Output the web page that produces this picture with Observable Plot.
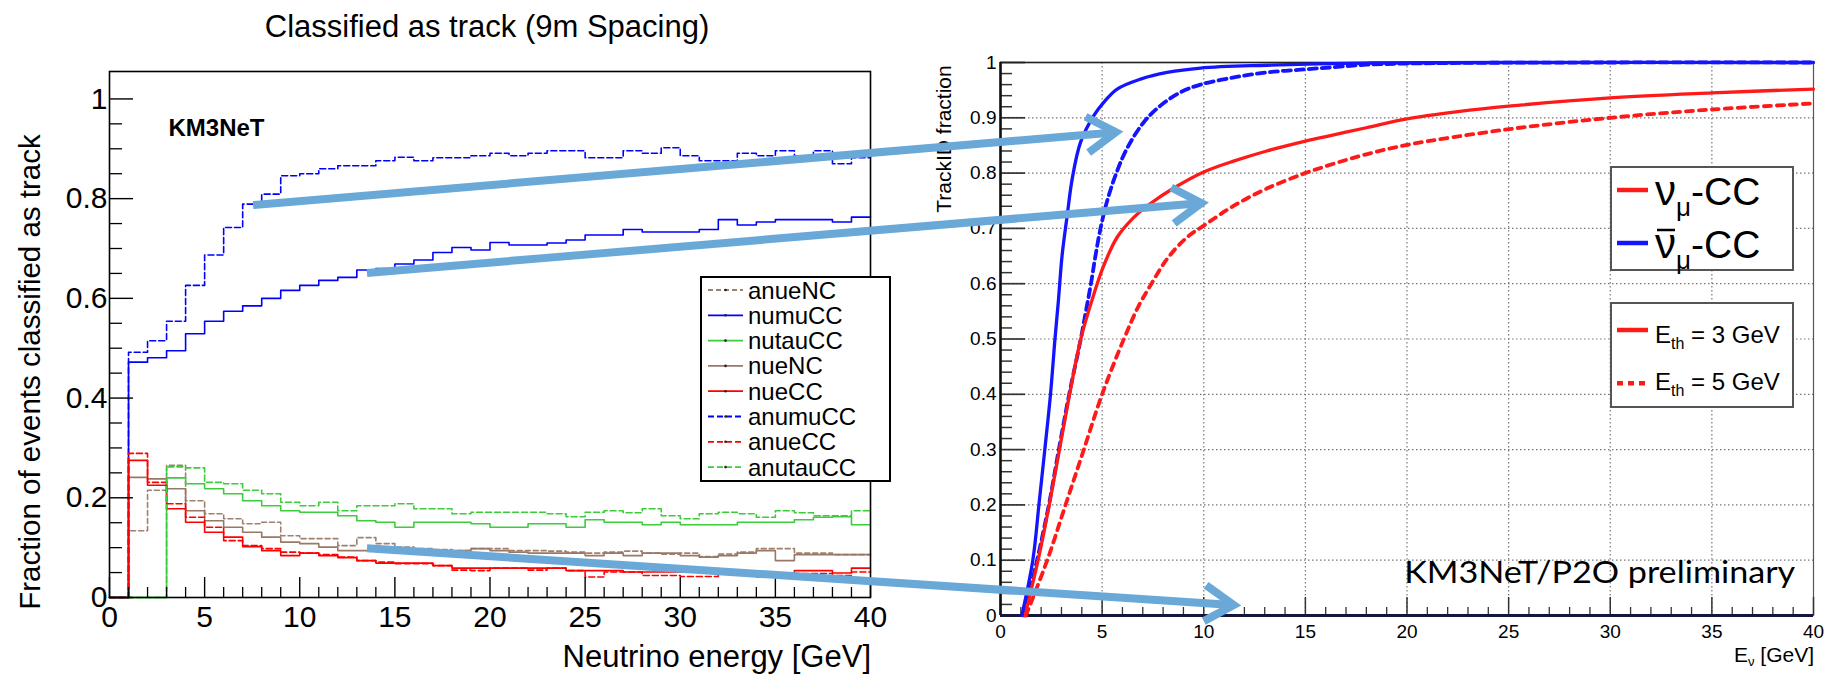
<!DOCTYPE html>
<html><head><meta charset="utf-8">
<script src="https://cdn.jsdelivr.net/npm/d3@7"></script>
<script src="https://cdn.jsdelivr.net/npm/@observablehq/plot@0.6"></script>
<style>
html,body{margin:0;padding:0;background:#fff;}
#root{position:relative;width:1836px;height:677px;overflow:hidden;background:#fff;}
#root svg{position:absolute;top:0;}
</style></head><body><div id="root"></div>
<script>
const FONT = "'Liberation Sans', Arial, Helvetica, sans-serif";

// ---------- LEFT PANEL: fraction classified as track, 1 GeV bins 0..40 ----------
const leftTitle = "Classified as track (9m Spacing)";
const leftYTitle = "Fraction of events classified as track";
const leftXTitle = "Neutrino energy [GeV]";
const leftTag = "KM3NeT";
const binEdges = d3.range(0, 41);
const leftNames  = ["anueNC","numuCC","nutauCC","nueNC","nueCC","anumuCC","anueCC","anutauCC"];
const leftColors = ["#a0806f","#0000ff","#3ccc3c","#9a7868","#ff0000","#0000ff","#ff0000","#3ccc3c"];
const leftDashes = ["5,3", null, null, null, null, "6,3", "6,3", "6,3"];

const anueNC = [0,.134,.215,.265,.194,.168,.158,.148,.151,.124,.118,.118,.104,.120,.108,.101,.098,.096,.094,.098,.098,.094,.094,.093,.091,.089,.091,.093,.089,.087,.089,.082,.087,.091,.098,.098,.089,.089,.086,.086];
const numuCC = [0,.472,.481,.495,.529,.554,.574,.585,.600,.616,.626,.636,.642,.657,.660,.669,.677,.692,.702,.697,.712,.707,.707,.711,.717,.727,.727,.738,.733,.733,.733,.738,.758,.747,.753,.758,.758,.758,.753,.763];
const nutauCC = [0,0,0,.240,.228,.218,.208,.194,.184,.174,.171,.171,.164,.154,.151,.141,.151,.151,.151,.148,.141,.141,.148,.148,.141,.156,.151,.151,.146,.151,.146,.146,.146,.151,.151,.151,.156,.161,.162,.146];
const nueNC = [0,.241,.238,.218,.174,.154,.141,.131,.121,.111,.108,.101,.094,.094,.098,.098,.094,.091,.094,.098,.094,.091,.089,.089,.089,.084,.089,.084,.089,.089,.084,.081,.084,.089,.094,.074,.086,.086,.086,.086];
const nueCC = [0,.275,.225,.178,.151,.131,.121,.102,.094,.084,.089,.084,.080,.074,.069,.069,.069,.064,.059,.059,.059,.059,.059,.059,.054,.054,.054,.051,.051,.051,.051,.054,.054,.051,.049,.049,.054,.054,.049,.059];
const anumuCC = [0,.492,.515,.554,.626,.687,.742,.789,.809,.846,.850,.860,.866,.866,.876,.883,.876,.882,.882,.886,.891,.886,.891,.896,.896,.882,.882,.896,.891,.902,.886,.876,.876,.891,.886,.896,.886,.896,.870,.882];
const anueCC = [0,.289,.231,.188,.161,.141,.114,.104,.098,.091,.089,.086,.081,.074,.071,.068,.068,.064,.055,.054,.059,.059,.055,.059,.054,.041,.051,.051,.044,.044,.042,.042,.048,.048,.041,.049,.048,.048,.044,.051];
const anutauCC = [0,0,0,.262,.260,.231,.228,.215,.208,.191,.184,.191,.174,.184,.184,.188,.178,.178,.168,.171,.171,.171,.171,.168,.162,.171,.174,.170,.178,.164,.158,.168,.171,.168,.161,.174,.170,.164,.164,.174];
const leftValues = [anueNC, numuCC, nutauCC, nueNC, nueCC, anumuCC, anueCC, anutauCC];

const leftYLabels = [0, 0.2, 0.4, 0.6, 0.8, 1];
const leftXLabels = [0, 5, 10, 15, 20, 25, 30, 35, 40];

// ---------- RIGHT PANEL: TrackID fraction vs E_nu ----------
const rightYTitle = "TrackID fraction";
const rightTag = "KM3NeT/P2O preliminary";
// [energy GeV, fraction]
const antinumuEth3 = [[1.05,0],[1.59,.1],[1.89,.2],[2.18,.3],[2.46,.4],[2.68,.5],[2.85,.57],[3.03,.651],[3.28,.723],[3.53,.79],[3.94,.856],[4.59,.904],[5.08,.928],[5.74,.952],[6.89,.970],[8.2,.982],[9.84,.990],[13.1,.995],[18,.999],[25,1],[40,1]];
const antinumuEth5 = [[1.15,0],[1.8,.1],[2.38,.2],[2.87,.3],[3.38,.4],[3.95,.5],[4.2,.55],[4.45,.6],[4.67,.65],[4.92,.7],[5.25,.75],[5.7,.8],[6.23,.845],[7.05,.892],[7.87,.922],[8.85,.946],[9.84,.960],[11.48,.973],[13.1,.982],[14.76,.987],[16.4,.9915],[18,.996],[22,.999],[40,1]];
const numuEth3 = [[1.2,0],[1.85,.1],[2.4,.2],[2.9,.3],[3.4,.4],[3.95,.5],[4.5,.57],[5.05,.63],[5.74,.684],[6.56,.72],[7.38,.745],[8.53,.773],[10,.802],[11.5,.822],[13.1,.84],[15,.858],[16.5,.87],[18,.882],[20,.898],[22.5,.911],[25,.921],[30,.936],[35,.945],[40,.952]];
const numuEth5 = [[1.25,0],[2.3,.1],[3.2,.2],[4.1,.3],[5,.4],[6.07,.5],[6.8,.56],[7.38,.597],[8.2,.645],[9.18,.684],[10,.705],[11.48,.741],[13.1,.772],[14.92,.799],[16.4,.817],[18,.834],[20,.851],[24.92,.879],[30,.9],[35,.915],[40,.926]];
const rightCurves = [
  {data: numuEth5, color: "#ff1a1a", dash: "7,6", w: 3.8},
  {data: antinumuEth5, color: "#1414ff", dash: "8,5", w: 3.8},
  {data: numuEth3, color: "#ff1a1a", dash: null, w: 3.3},
  {data: antinumuEth3, color: "#1414ff", dash: null, w: 3.3}
];
const rightYLabels = [0, 0.1, 0.2, 0.3, 0.4, 0.5, 0.6, 0.7, 0.8, 0.9, 1];
const rightXLabels = [0, 5, 10, 15, 20, 25, 30, 35, 40];
const rightGridX = [5, 10, 15, 20, 25, 30, 35];
const rightGridY = [0.1, 0.2, 0.3, 0.4, 0.5, 0.6, 0.7, 0.8, 0.9];
const flavourLegend = [{nu: "ν", sub: "μ", rest: "-CC", bar: false, color: "#ff1a1a"}, {nu: "ν", sub: "μ", rest: "-CC", bar: true, color: "#1414ff"}];
const thresholdLegend = [{label: "3 GeV", dash: null}, {label: "5 GeV", dash: "6,5"}];

// arrows: from left-panel (GeV, fraction) to right-panel (GeV, fraction)
const arrowFrom = [[7.57, 0.786], [13.56, 0.65], [13.56, 0.098]];
const arrowTo   = [[5.7, 0.873], [9.91, 0.745], [11.5, 0.018]];

// ---------- build ----------
const root = document.getElementById("root");
const notIn = (arr, v) => !arr.some(a => Math.abs(a - v) < 1e-6);

const LW = 900, LH = 677, Lml = 109, Lmr = 30, Lmt = 71, Lmb = 80;
const LFW = LW - Lml - Lmr, LFH = LH - Lmt - Lmb;
const leftYMinor = d3.range(0.05, 1.0001, 0.05).filter(v => notIn(leftYLabels, v));
const leftXMinor = d3.range(1, 40).filter(v => v % 5 !== 0);
const steps = vals => binEdges.map(e => ({e, v: vals[Math.min(e, vals.length - 1)]}));

const leftPlot = Plot.plot({
  width: LW, height: LH, marginLeft: Lml, marginRight: Lmr, marginTop: Lmt, marginBottom: Lmb,
  x: {domain: [0, 40]}, y: {domain: [0, 1.055]},
  style: {fontFamily: FONT, background: "transparent", overflow: "visible"},
  marks: [
    ...leftValues.map((vals, i) => Plot.line(steps(vals), {x: "e", y: "v", curve: "step-after", stroke: leftColors[i], strokeWidth: 1.6, ...(leftDashes[i] ? {strokeDasharray: leftDashes[i]} : {})})),
    Plot.tickY(leftYMinor, {y: d => d, insetRight: LFW - 13, stroke: "black", strokeWidth: 1.3}),
    Plot.tickY(leftYLabels, {y: d => d, insetRight: LFW - 24, stroke: "black", strokeWidth: 1.4}),
    Plot.tickX(leftXMinor, {x: d => d, insetTop: LFH - 10, stroke: "black", strokeWidth: 1.3}),
    Plot.tickX(leftXLabels, {x: d => d, insetTop: LFH - 20, stroke: "black", strokeWidth: 1.4}),
    Plot.frame({stroke: "black", strokeWidth: 1.6}),
    Plot.axisY(leftYLabels, {tickSize: 0, tickPadding: 2, fontSize: 30, fontFamily: FONT, tickFormat: d => String(d), label: null}),
    Plot.axisX(leftXLabels, {tickSize: 0, tickPadding: 8, fontSize: 30, fontFamily: FONT, tickFormat: d => String(d), label: null}),
    Plot.text([leftTag], {x: 3.1, y: 0.926, text: d => d, textAnchor: "start", lineAnchor: "bottom", fontSize: 24, fontWeight: "bold", fontFamily: FONT})
  ]
});
leftPlot.style.left = "0px";
root.appendChild(leftPlot);

const RW = 936, RH = 677, Rml = 100, Rmr = 23, Rmt = 62, Rmb = 62;
const RFW = RW - Rml - Rmr, RFH = RH - Rmt - Rmb;
const rightYMinor = d3.range(0.02, 1.0001, 0.02).filter(v => notIn(rightYLabels, v));
const rightXMinor = d3.range(1, 40).filter(v => v % 5 !== 0);

const rightPlot = Plot.plot({
  width: RW, height: RH, marginLeft: Rml, marginRight: Rmr, marginTop: Rmt, marginBottom: Rmb,
  x: {domain: [0, 40]}, y: {domain: [0, 1]},
  style: {fontFamily: FONT, background: "transparent", overflow: "visible"},
  marks: [
    Plot.ruleX(rightGridX, {x: d => d, stroke: "#777", strokeWidth: 1.2, strokeDasharray: "1.5,2.5"}),
    Plot.ruleY(rightGridY, {y: d => d, stroke: "#777", strokeWidth: 1.2, strokeDasharray: "1.5,2.5"}),
    Plot.frame({stroke: "#555", strokeWidth: 1.2}),
    Plot.tickY(rightYMinor, {y: d => d, insetRight: RFW - 12, stroke: "#333", strokeWidth: 1.5}),
    Plot.tickY(rightYLabels, {y: d => d, insetRight: RFW - 25, stroke: "#333", strokeWidth: 1.7}),
    Plot.tickX(rightXMinor, {x: d => d, insetTop: RFH - 8, stroke: "#333", strokeWidth: 1.3}),
    Plot.tickX(rightXLabels, {x: d => d, insetTop: RFH - 18, stroke: "#333", strokeWidth: 1.5}),
    Plot.ruleY([1], {y: d => d, stroke: "#222", strokeWidth: 1.6}),
    Plot.ruleX([0], {x: d => d, stroke: "#111", strokeWidth: 2.6}),
    Plot.ruleY([0], {y: d => d, stroke: "#16163c", strokeWidth: 3.2}),
    ...rightCurves.map(c => Plot.line(c.data, {x: d => d[0], y: d => d[1], curve: "catmull-rom", stroke: c.color, strokeWidth: c.w, ...(c.dash ? {strokeDasharray: c.dash} : {})})),
    Plot.axisY(rightYLabels, {tickSize: 0, tickPadding: 4, fontSize: 19, fontFamily: FONT, tickFormat: d => String(d), label: null}),
    Plot.axisX(rightXLabels, {tickSize: 0, tickPadding: 9, fontSize: 19, fontFamily: FONT, tickFormat: d => String(d), label: null}),
    Plot.text([rightTag], {x: 39.1, y: 0.058, text: d => d, textAnchor: "end", lineAnchor: "bottom", fontSize: 31, fontFamily: "Lato, 'Open Sans', sans-serif"})
  ]
});
rightPlot.style.left = "900px";
root.appendChild(rightPlot);
d3.select(rightPlot).selectAll("text").filter(function(){ return this.textContent === rightTag; })
  .attr("textLength", 391).attr("lengthAdjust", "spacingAndGlyphs");

// ---------- overlay: titles, legends, arrows ----------
const ov = d3.create("svg").attr("width", 1836).attr("height", 677).attr("font-family", FONT).style("left", "0px");
root.appendChild(ov.node());

ov.append("text").attr("x", 487).attr("y", 37).attr("text-anchor", "middle").attr("font-size", 31).text(leftTitle);
ov.append("text").attr("transform", "translate(40,372) rotate(-90)").attr("text-anchor", "middle").attr("font-size", 29.5).text(leftYTitle);
ov.append("text").attr("x", 871).attr("y", 667).attr("text-anchor", "end").attr("font-size", 31).text(leftXTitle);

// left legend
ov.append("rect").attr("x", 701).attr("y", 277).attr("width", 189).attr("height", 204).attr("fill", "white").attr("stroke", "black").attr("stroke-width", 2);
leftNames.forEach((n, i) => {
  const y = 290 + i * 25.3;
  const l = ov.append("line").attr("x1", 708).attr("x2", 743).attr("y1", y).attr("y2", y).attr("stroke", leftColors[i]).attr("stroke-width", 1.8);
  if (leftDashes[i]) l.attr("stroke-dasharray", leftDashes[i]);
  ov.append("circle").attr("cx", 725.5).attr("cy", y).attr("r", 1.3).attr("fill", "#222");
  ov.append("text").attr("x", 748).attr("y", y + 8.5).attr("font-size", 24).text(n);
});

// right axis titles
ov.append("text").attr("transform", "translate(951,139) rotate(-90)").attr("text-anchor", "middle").attr("font-size", 21).text(rightYTitle);
const xt = ov.append("text").attr("x", 1814).attr("y", 662).attr("text-anchor", "end").attr("font-size", 21);
xt.append("tspan").text("E");
xt.append("tspan").attr("font-size", 13).attr("dy", 4).text("ν");
xt.append("tspan").attr("dy", -4).text(" [GeV]");

// right legend 1
ov.append("rect").attr("x", 1611).attr("y", 167).attr("width", 182).attr("height", 103).attr("fill", "white").attr("stroke", "#555").attr("stroke-width", 2);
flavourLegend.forEach((d, i) => {
  const y = 190 + i * 53, base = 205 + i * 53;
  ov.append("line").attr("x1", 1617).attr("x2", 1648).attr("y1", y).attr("y2", y).attr("stroke", d.color).attr("stroke-width", 4.5);
  const t = ov.append("text").attr("x", 1655).attr("y", base).attr("font-size", 39);
  t.append("tspan").attr("font-size", 42).text(d.nu);
  t.append("tspan").attr("font-size", 26).attr("dy", 11).text(d.sub);
  t.append("tspan").attr("dy", -11).text(d.rest);
  if (d.bar) {
    const ext = t.node().getExtentOfChar(0);
    ov.append("line").attr("x1", ext.x + 2).attr("x2", ext.x + ext.width - 1).attr("y1", base - 28).attr("y2", base - 28).attr("stroke", "black").attr("stroke-width", 2.5);
  }
});

// right legend 2
ov.append("rect").attr("x", 1611).attr("y", 303).attr("width", 182).attr("height", 104).attr("fill", "white").attr("stroke", "#555").attr("stroke-width", 2);
thresholdLegend.forEach((d, i) => {
  const y = 330 + i * 53.3, base = 343 + i * 47;
  const l = ov.append("line").attr("x1", 1617).attr("x2", 1648).attr("y1", y).attr("y2", y).attr("stroke", "#ff1a1a").attr("stroke-width", 4.5);
  if (d.dash) l.attr("stroke-dasharray", d.dash);
  const t = ov.append("text").attr("x", 1655).attr("y", base).attr("font-size", 24);
  t.append("tspan").text("E");
  t.append("tspan").attr("font-size", 16).attr("dy", 6).text("th");
  t.append("tspan").attr("dy", -6).text(" = " + d.label);
});

// arrows
const lx = leftPlot.scale("x"), ly = leftPlot.scale("y");
const rx = rightPlot.scale("x"), ry = rightPlot.scale("y");
const ag = ov.append("g").attr("stroke", "#6aa8d8").attr("fill", "none").attr("stroke-width", 8);
arrowFrom.forEach((f, i) => {
  const p0 = [lx.apply(f[0]), ly.apply(f[1])];
  const p1 = [rx.apply(arrowTo[i][0]) + 900, ry.apply(arrowTo[i][1])];
  const dx = p1[0] - p0[0], dy = p1[1] - p0[1], L = Math.hypot(dx, dy), ux = dx / L, uy = dy / L;
  const bx = -ux, by = -uy, a = 32 * Math.PI / 180, len = 34;
  const rot = ang => [bx * Math.cos(ang) - by * Math.sin(ang), bx * Math.sin(ang) + by * Math.cos(ang)];
  const [ax, ay] = rot(a), [cx, cy] = rot(-a);
  ag.append("line").attr("x1", p0[0]).attr("y1", p0[1]).attr("x2", p1[0] - ux * 5).attr("y2", p1[1] - uy * 5);
  ag.append("polyline").attr("stroke-linejoin", "miter")
    .attr("points", `${p1[0] + ax * len},${p1[1] + ay * len} ${p1[0]},${p1[1]} ${p1[0] + cx * len},${p1[1] + cy * len}`);
});
</script></body></html>
